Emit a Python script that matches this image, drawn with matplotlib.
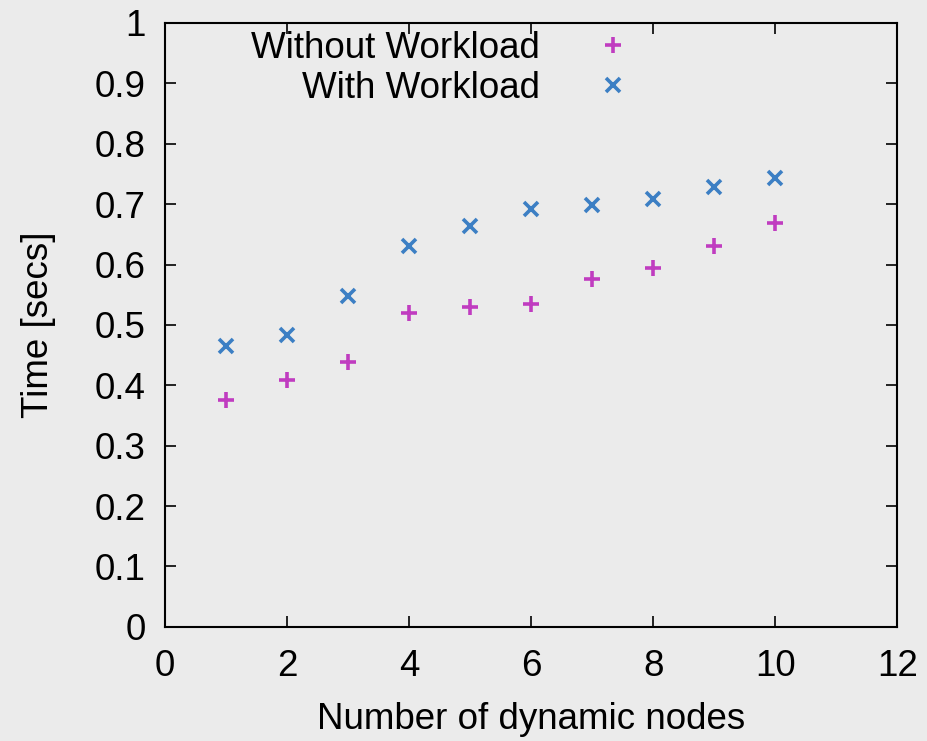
import matplotlib
matplotlib.use("Agg")
import matplotlib.pyplot as plt

nodes = [1, 2, 3, 4, 5, 6, 7, 8, 9, 10]
without_workload = [0.376, 0.409, 0.439, 0.520, 0.530, 0.535, 0.576, 0.594, 0.631, 0.669]
with_workload = [0.465, 0.483, 0.548, 0.631, 0.664, 0.692, 0.699, 0.709, 0.728, 0.743]
xticks = [0, 2, 4, 6, 8, 10, 12]
yticks = [0, 0.1, 0.2, 0.3, 0.4, 0.5, 0.6, 0.7, 0.8, 0.9, 1]
ytick_labels = ["0", "0.1", "0.2", "0.3", "0.4", "0.5", "0.6", "0.7", "0.8", "0.9", "1"]

bg = "#ebebeb"
fs = 26.5
plt.rcParams['font.family'] = ['Liberation Sans', 'DejaVu Sans']
fig = plt.figure(figsize=(9.27, 7.41), dpi=100, facecolor=bg)
ax = fig.add_axes([0.178, 0.154, 0.790, 0.815], facecolor=bg)

ax.plot(nodes, without_workload, linestyle='none', marker='+', markersize=11,
        markeredgewidth=2.6, color='#c03cc0', label='Without Workload')
ax.plot(nodes, with_workload, linestyle='none', marker='x', markersize=10,
        markeredgewidth=2.6, color='#3c7fc4', label='With Workload')

ax.set_xlim(0, 12)
ax.set_ylim(0, 1)
ax.set_xticks(xticks)
ax.set_xticklabels([str(t) for t in xticks])
ax.set_yticks(yticks)
ax.set_yticklabels(ytick_labels)
ax.tick_params(direction='in', length=8, width=1.2, top=True, right=True,
               labelsize=fs)
ax.tick_params(axis='y', pad=14)
ax.tick_params(axis='x', pad=16)
for s in ax.spines.values():
    s.set_linewidth(1.5)
ax.set_xlabel('Number of dynamic nodes', fontsize=fs, labelpad=13)
ax.set_ylabel('Time [secs]', fontsize=fs, labelpad=28)

leg = ax.legend(loc='upper left', bbox_to_anchor=(0.082, 1.03), markerfirst=False,
                frameon=False, fontsize=fs, handlelength=1.5, handletextpad=1.25,
                labelspacing=0.15, borderaxespad=0.3)

fig.savefig('out.png', dpi=100, facecolor=bg)
